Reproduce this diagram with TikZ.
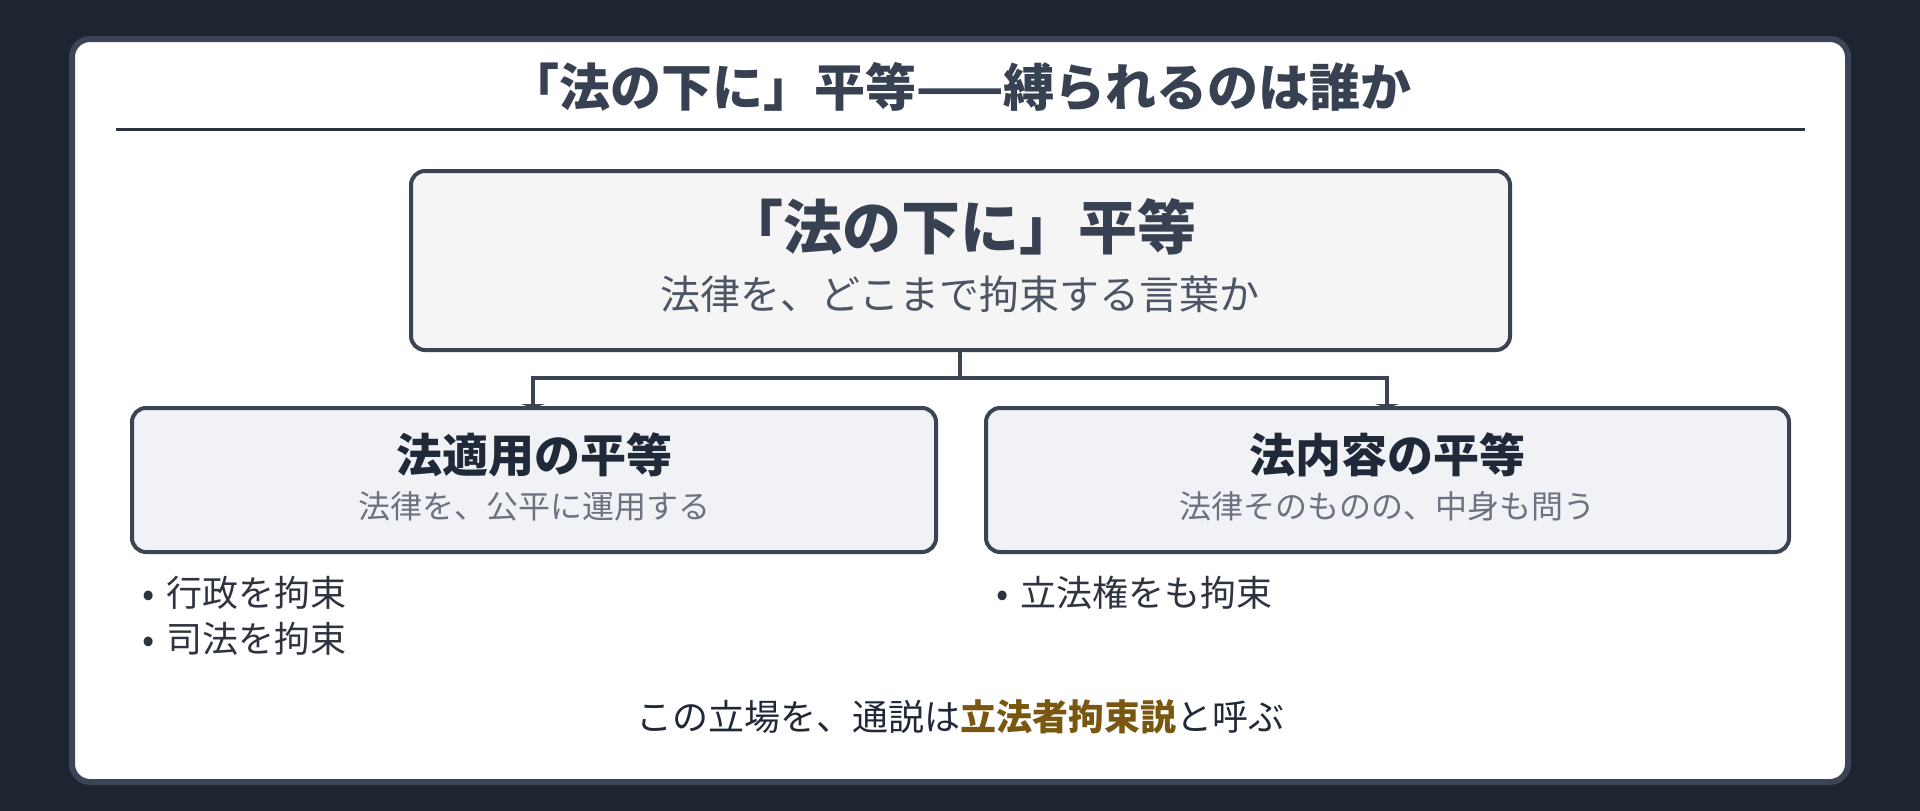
\documentclass[tikz,border=0pt]{standalone}
\usepackage{fontspec}
\setmainfont{Noto Sans CJK JP}
\usetikzlibrary{arrows.meta}
\definecolor{bgdark}{HTML}{1E2430}
\definecolor{panelborder}{HTML}{3B4555}
\definecolor{titlecol}{HTML}{374151}
\definecolor{rulecol}{HTML}{2D3440}
\definecolor{mainfill}{HTML}{F5F5F5}
\definecolor{boxborder}{HTML}{3A4453}
\definecolor{subcol}{HTML}{4B5563}
\definecolor{smallfill}{HTML}{F0F2F5}
\definecolor{headcol}{HTML}{1F2937}
\definecolor{smallsub}{HTML}{6B7280}
\definecolor{bulletcol}{HTML}{2D3440}
\definecolor{highlight}{HTML}{7A5710}
\tikzset{
  mainbox/.style={draw=boxborder, line width=4pt, fill=mainfill, rounded corners=14pt},
  smallbox/.style={draw=boxborder, line width=4pt, fill=smallfill, rounded corners=14pt},
  conn/.style={draw=boxborder, line width=3.5pt},
  txt/.style={inner sep=0pt, anchor=center},
  bullet/.style={inner sep=0pt, anchor=west, font=\fontsize{36}{42}\selectfont, text=bulletcol},
}
\begin{document}
\begin{tikzpicture}[x=1pt,y=-1pt]
\useasboundingbox (0,0) rectangle (1920,811);
\fill[bgdark] (0,0) rectangle (1920,811);
% panel
\draw[draw=panelborder, line width=6pt, fill=white, rounded corners=18pt] (72,39) rectangle (1848,782);
% title
\node[txt, text=titlecol, font=\fontsize{51}{58}\selectfont\bfseries] (title) at (960,87) {「法の下に」平等——縛られるのは誰か};
\draw[rulecol, line width=3pt] (116,129) -- (1805,129);
% main box
\draw[mainbox] (411,171) rectangle (1510,350);
\coordinate (mainbot) at (960,350);
\node[txt, text=titlecol, font=\fontsize{59}{66}\selectfont\bfseries] (maintitle) at (960,227) {「法の下に」平等};
\node[txt, text=subcol, font=\fontsize{40}{46}\selectfont] (mainsub) at (960,294) {法律を、どこまで拘束する言葉か};
% small boxes
\draw[smallbox] (132,408) rectangle (936,552);
\draw[smallbox] (986,408) rectangle (1789,552);
\coordinate (lefttop) at (533,408);
\coordinate (righttop) at (1387,408);
\coordinate (junction) at (960,378);
\node[txt, text=headcol, font=\fontsize{46}{52}\selectfont\bfseries] (lefttitle) at (534,455) {法適用の平等};
\node[txt, text=smallsub, font=\fontsize{32}{38}\selectfont] (leftsub) at (534,506) {法律を、公平に運用する};
\node[txt, text=headcol, font=\fontsize{46}{52}\selectfont\bfseries] (righttitle) at (1387,455) {法内容の平等};
\node[txt, text=smallsub, font=\fontsize{32}{38}\selectfont] (rightsub) at (1387,506) {法律そのものの、中身も問う};
% connectors
\draw[conn] (mainbot) -- (junction);
\draw[conn, -{Triangle[width=24pt,length=4pt]}] (junction) -| (lefttop);
\draw[conn, -{Triangle[width=24pt,length=4pt]}] (junction) -| (righttop);
% bullets
\node[bullet] (b1) at (142,593) {•\hspace{12pt}行政を拘束};
\node[bullet] (b2) at (142,639) {•\hspace{12pt}司法を拘束};
\node[bullet] (b3) at (996,593) {•\hspace{12pt}立法権をも拘束};
% bottom
\node[txt, text=headcol, font=\fontsize{36}{42}\selectfont] (bottom) at (960,717) {この立場を、通説は\textcolor{highlight}{\bfseries 立法者拘束説}と呼ぶ};
\end{tikzpicture}
\end{document}
